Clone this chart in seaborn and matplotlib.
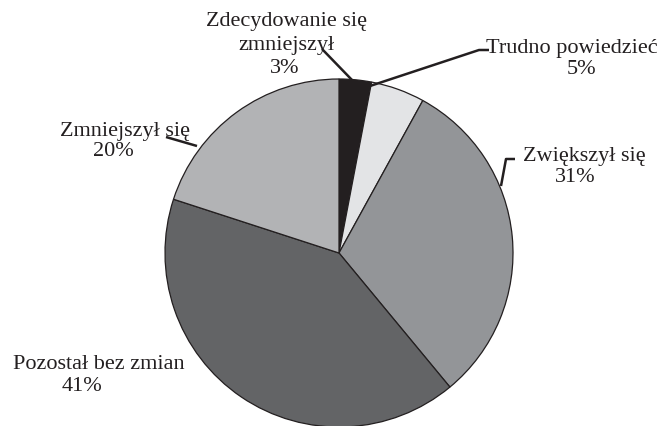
import matplotlib
matplotlib.use("Agg")
import matplotlib.pyplot as plt
import seaborn as sns

categories = ["Zdecydowanie się\nzmniejszył", "Trudno powiedzieć", "Zwiększył się",
              "Pozostał bez zmian", "Zmniejszył się"]
values = [3, 5, 31, 41, 20]
colors = ["#231f20", "#e3e4e6", "#939598", "#636466", "#b2b3b5"]

sns.set_theme(style="white")
plt.rcParams["font.family"] = ["Liberation Serif", "DejaVu Serif"]

W, H = 671, 426
fig = plt.figure(figsize=(W / 100, H / 100), dpi=100)
ax = fig.add_axes([0, 0, 1, 1])

cx, cy, r = 339, H - 253, 174
ax.pie(values, colors=colors, startangle=90, counterclock=False,
       center=(cx, cy), radius=r, frame=True,
       wedgeprops=dict(edgecolor="#231f20", linewidth=0.9))
ax.set_xlim(0, W)
ax.set_ylim(0, H)
ax.set_aspect("equal")
ax.axis("off")

# label layout: (x centre, baseline) per text line, pixels from top-left
line_pos = [
    [(286, 26), (286, 50), (285, 73)],
    [(572, 53), (581, 74)],
    [(584, 161), (575, 182)],
    [(99, 369), (82, 391)],
    [(125, 136), (113, 156)],
]
for name, v, pos in zip(categories, values, line_pos):
    lines = name.split("\n") + [f"{v}%"]
    for txt, (x, y) in zip(lines, pos):
        ax.text(x, H - y, txt, ha="center", va="baseline",
                fontsize=16, color="#231f20")

lc = "#231f20"
leaders = [
    [(352, 80), (322, 49)],
    [(370, 86), (479, 50), (489, 50)],
    [(501, 186), (506, 159), (515, 159)],
    [(197, 146), (166, 137)],
]
for pts in leaders:
    xs = [p[0] for p in pts]
    ys = [H - p[1] for p in pts]
    ax.plot(xs, ys, color=lc, lw=1.8, solid_capstyle="butt")

fig.savefig("out.png", dpi=100, facecolor="white")
